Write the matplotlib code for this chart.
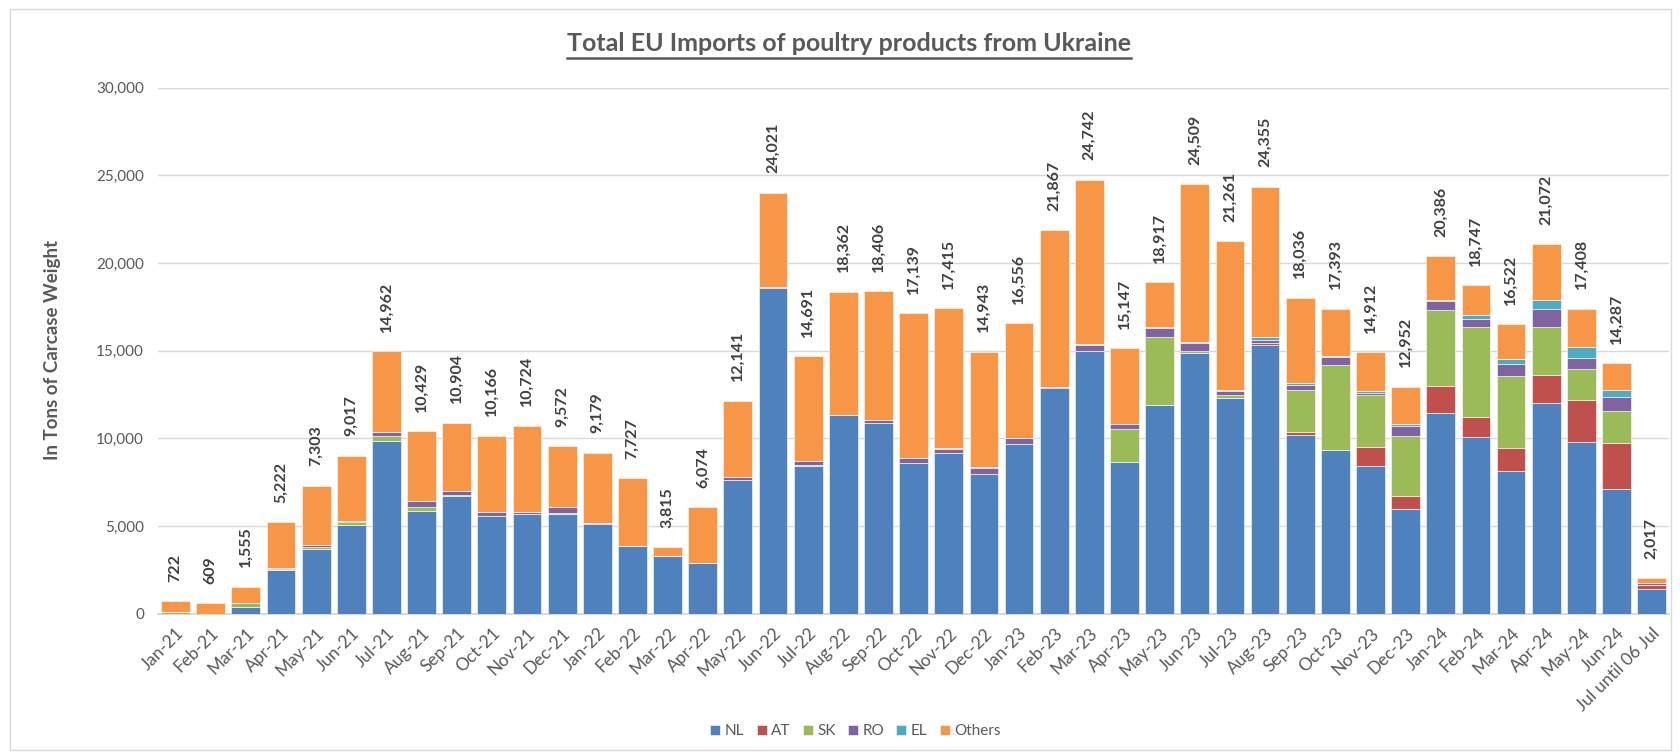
import numpy as np
import matplotlib
matplotlib.use("Agg")
import matplotlib.pyplot as plt
from matplotlib.patches import Rectangle
from matplotlib.lines import Line2D

plt.rcParams['font.family'] = ['Lato', 'DejaVu Sans']

# Monthly categories
months = ['Jan-21', 'Feb-21', 'Mar-21', 'Apr-21', 'May-21', 'Jun-21', 'Jul-21', 'Aug-21',
          'Sep-21', 'Oct-21', 'Nov-21', 'Dec-21', 'Jan-22', 'Feb-22', 'Mar-22', 'Apr-22',
          'May-22', 'Jun-22', 'Jul-22', 'Aug-22', 'Sep-22', 'Oct-22', 'Nov-22', 'Dec-22',
          'Jan-23', 'Feb-23', 'Mar-23', 'Apr-23', 'May-23', 'Jun-23', 'Jul-23', 'Aug-23',
          'Sep-23', 'Oct-23', 'Nov-23', 'Dec-23', 'Jan-24', 'Feb-24', 'Mar-24', 'Apr-24',
          'May-24', 'Jun-24', 'Jul until 06 Jul']

# Tons of carcase weight per destination
nl = [20, 10, 420, 2480, 3710, 5080, 9870, 5850, 6740, 5570, 5720, 5720, 5130, 3860, 3280, 2920,
      7650, 18560, 8440, 11350, 10910, 8630, 9200, 7950, 9680, 12850, 14990, 8680, 11890, 14850,
      12330, 15340, 10170, 9350, 8450, 5970, 11450, 10100, 8150, 12040, 9810, 7120, 1430]
at = [0, 0, 0, 0, 0, 0, 0, 0, 0, 0, 0, 0, 0, 0, 0, 0,
      0, 0, 0, 0, 0, 0, 0, 0, 0, 0, 0, 0, 0, 0,
      0, 130, 210, 0, 1070, 725, 1530, 1150, 1300, 1600, 2390, 2610, 190]
sk = [60, 0, 200, 90, 130, 130, 285, 230, 20, 0, 0, 30, 0, 0, 0, 0,
      0, 0, 40, 0, 0, 0, 0, 0, 0, 0, 0, 1880, 3890, 150,
      170, 0, 2390, 4850, 2960, 3470, 4330, 5130, 4120, 2730, 1740, 1810, 0]
ro = [0, 0, 0, 20, 95, 75, 210, 340, 265, 210, 75, 360, 30, 0, 0, 0,
      170, 95, 250, 0, 130, 250, 190, 380, 340, 60, 320, 280, 500, 420,
      190, 170, 305, 420, 130, 570, 515, 440, 650, 990, 630, 840, 130]
el = [0, 0, 0, 0, 0, 0, 0, 0, 0, 0, 0, 0, 0, 0, 0, 0,
      0, 0, 0, 0, 0, 0, 75, 55, 0, 35, 95, 0, 95, 95,
      95, 130, 75, 95, 75, 95, 95, 210, 285, 535, 650, 380, 0]
others = [642, 599, 935, 2632, 3368, 3732, 4597, 4009, 3879, 4386, 4929, 3462, 4019, 3867, 535, 3154,
          4321, 5366, 5961, 7012, 7366, 8259, 7950, 6558, 6536, 8922, 9337, 4307, 2542, 8994,
          8476, 8585, 4886, 2678, 2227, 2122, 2466, 1717, 2017, 3177, 2188, 1527, 267]
totals = [722, 609, 1555, 5222, 7303, 9017, 14962, 10429, 10904, 10166, 10724, 9572, 9179, 7727,
          3815, 6074, 12141, 24021, 14691, 18362, 18406, 17139, 17415, 14943, 16556, 21867, 24742,
          15147, 18917, 24509, 21261, 24355, 18036, 17393, 14912, 12952, 20386, 18747, 16522,
          21072, 17408, 14287, 2017]

series = [('NL', nl, '#4F81BD'), ('AT', at, '#C0504D'), ('SK', sk, '#9BBB59'),
          ('RO', ro, '#8064A2'), ('EL', el, '#4BACC6'), ('Others', others, '#F79646')]

grey = '#595959'
fig = plt.figure(figsize=(16.81, 7.56), dpi=100)
ax = fig.add_axes([0.094, 0.188, 0.899, 0.696])

x = np.arange(len(months))
bottom = np.zeros(len(months))
for name, vals, col in series:
    ax.bar(x, vals, width=0.82, bottom=bottom, color=col, label=name,
           edgecolor='white', linewidth=0.4, zorder=3)
    bottom += np.array(vals)

for xi, t in zip(x, totals):
    ax.annotate(f"{t:,}", (xi, t), xytext=(0, 14), textcoords='offset points',
                rotation=90, ha='center', va='bottom', fontsize=11.5,
                fontweight='bold', color='#404040')

ax.set_xlim(-0.5, len(months) - 0.5)
ax.set_ylim(0, 30000)
ax.set_yticks(range(0, 30001, 5000))
ax.set_yticklabels([f"{v:,}" for v in range(0, 30001, 5000)])
ax.set_xticks(x)
ax.set_xticklabels(months, rotation=45, ha='right', rotation_mode='anchor')
ax.tick_params(axis='both', length=0, labelcolor=grey)
ax.tick_params(axis='y', labelsize=11, pad=10)
ax.tick_params(axis='x', labelsize=12.5, pad=8)
ax.grid(axis='y', color='#D9D9D9', linewidth=1, zorder=0)
for s in ['top', 'right', 'left']:
    ax.spines[s].set_visible(False)
ax.spines['bottom'].set_color('#D9D9D9')
ax.spines['bottom'].set_linewidth(1.5)

fig.text(0.031, 0.537, 'In Tons of Carcase Weight', rotation=90, ha='center', va='center',
         fontsize=13.5, fontweight='bold', color=grey)

title = fig.text(0.505, 0.943, 'Total EU Imports of poultry products from Ukraine',
                 ha='center', va='center', fontsize=18, fontweight='bold', color=grey)

fig.legend(loc='center', bbox_to_anchor=(0.509, 0.033), ncol=6, frameon=False,
           fontsize=11, handlelength=0.65, handleheight=0.65, handletextpad=0.3,
           columnspacing=0.8, labelcolor=grey)

# chart border
fig.patches.append(Rectangle((0.006, 0.008), 0.988, 0.98, transform=fig.transFigure,
                             fill=False, edgecolor='#D9D9D9', linewidth=1))

# underline the title
fig.canvas.draw()
bb = title.get_window_extent().transformed(fig.transFigure.inverted())
fig.lines.append(Line2D([bb.x0, bb.x1], [bb.y0 - 0.005, bb.y0 - 0.005],
                        transform=fig.transFigure, color=grey, linewidth=1.8))

fig.savefig('out.png', dpi=100)
